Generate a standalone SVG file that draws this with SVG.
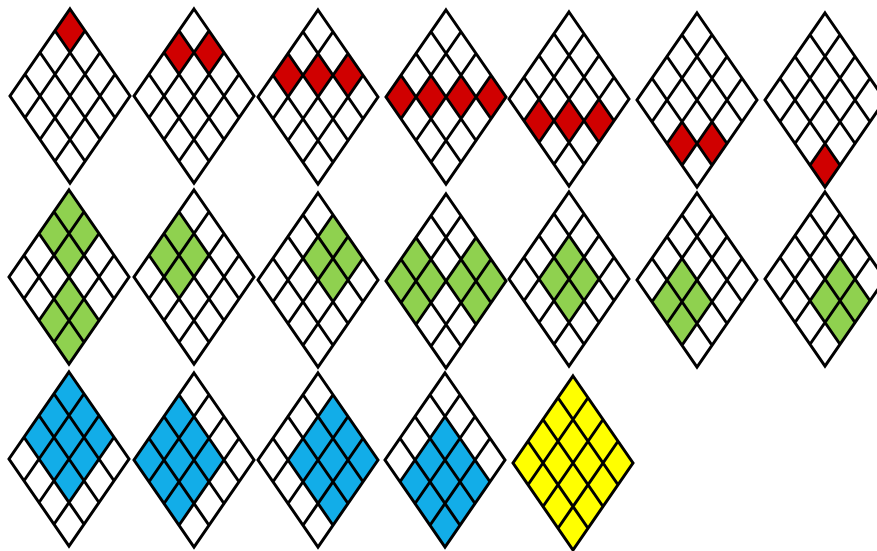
<svg xmlns="http://www.w3.org/2000/svg" xmlns:xlink="http://www.w3.org/1999/xlink" width="877" height="551" viewBox="0 0 877 551">
<style>
.r{fill:#d00000}.g{fill:#8fd14f}.b{fill:#12ade8}.y{fill:#ffff00}.w{fill:#ffffff}
.ln{fill:none;stroke:#000;stroke-width:3;stroke-linejoin:miter;stroke-miterlimit:10}
</style>
<defs>
<polygon id="c" points="0,0 15,21.75 0,43.5 -15,21.75"/>
<polygon id="bg" points="0,0 60,87 0,174 -60,87"/>
<path id="grid" class="ln" d="M0,0 L60,87 L0,174 L-60,87 Z M15,21.75 L-45,108.75 M30,43.5 L-30,130.5 M45,65.25 L-15,152.25 M-15,21.75 L45,108.75 M-30,43.5 L30,130.5 M-45,65.25 L15,152.25"/>
</defs>
<rect width="877" height="551" fill="#ffffff"/>
<g id="red-row">
<g id="r1" transform="translate(70,9)"><use xlink:href="#bg" class="w"/><use xlink:href="#c" class="r"/><use xlink:href="#grid"/></g>
<g id="r2" transform="translate(194,9)"><use xlink:href="#bg" class="w"/><use xlink:href="#c" class="r" x="15" y="21.75"/><use xlink:href="#c" class="r" x="-15" y="21.75"/><use xlink:href="#grid"/></g>
<g id="r3" transform="translate(318,10)"><use xlink:href="#bg" class="w"/><use xlink:href="#c" class="r" x="30" y="43.5"/><use xlink:href="#c" class="r" x="0" y="43.5"/><use xlink:href="#c" class="r" x="-30" y="43.5"/><use xlink:href="#grid"/></g>
<g id="r4" transform="translate(446,10)"><use xlink:href="#bg" class="w"/><use xlink:href="#c" class="r" x="45" y="65.25"/><use xlink:href="#c" class="r" x="15" y="65.25"/><use xlink:href="#c" class="r" x="-15" y="65.25"/><use xlink:href="#c" class="r" x="-45" y="65.25"/><use xlink:href="#grid"/></g>
<g id="r5" transform="translate(569,12)"><use xlink:href="#bg" class="w"/><use xlink:href="#c" class="r" x="30" y="87"/><use xlink:href="#c" class="r" x="0" y="87"/><use xlink:href="#c" class="r" x="-30" y="87"/><use xlink:href="#grid"/></g>
<g id="r6" transform="translate(697,13)"><use xlink:href="#bg" class="w"/><use xlink:href="#c" class="r" x="15" y="108.75"/><use xlink:href="#c" class="r" x="-15" y="108.75"/><use xlink:href="#grid"/></g>
<g id="r7" transform="translate(825,13)"><use xlink:href="#bg" class="w"/><use xlink:href="#c" class="r" x="0" y="130.5"/><use xlink:href="#grid"/></g>
</g>
<g id="green-row">
<g id="g1" transform="translate(69,190)"><use xlink:href="#bg" class="w"/><use xlink:href="#c" class="g"/><use xlink:href="#c" class="g" x="15" y="21.75"/><use xlink:href="#c" class="g" x="-15" y="21.75"/><use xlink:href="#c" class="g" x="0" y="43.5"/><use xlink:href="#c" class="g" x="0" y="87"/><use xlink:href="#c" class="g" x="15" y="108.75"/><use xlink:href="#c" class="g" x="-15" y="108.75"/><use xlink:href="#c" class="g" x="0" y="130.5"/><use xlink:href="#grid"/></g>
<g id="g2" transform="translate(194,190)"><use xlink:href="#bg" class="w"/><use xlink:href="#c" class="g" x="-15" y="21.75"/><use xlink:href="#c" class="g" x="0" y="43.5"/><use xlink:href="#c" class="g" x="-30" y="43.5"/><use xlink:href="#c" class="g" x="-15" y="65.25"/><use xlink:href="#grid"/></g>
<g id="g3" transform="translate(318,193)"><use xlink:href="#bg" class="w"/><use xlink:href="#c" class="g" x="15" y="21.75"/><use xlink:href="#c" class="g" x="30" y="43.5"/><use xlink:href="#c" class="g" x="0" y="43.5"/><use xlink:href="#c" class="g" x="15" y="65.25"/><use xlink:href="#grid"/></g>
<g id="g4" transform="translate(446,194)"><use xlink:href="#bg" class="w"/><use xlink:href="#c" class="g" x="-30" y="43.5"/><use xlink:href="#c" class="g" x="-15" y="65.25"/><use xlink:href="#c" class="g" x="-45" y="65.25"/><use xlink:href="#c" class="g" x="-30" y="87"/><use xlink:href="#c" class="g" x="30" y="43.5"/><use xlink:href="#c" class="g" x="45" y="65.25"/><use xlink:href="#c" class="g" x="15" y="65.25"/><use xlink:href="#c" class="g" x="30" y="87"/><use xlink:href="#grid"/></g>
<g id="g5" transform="translate(569,192)"><use xlink:href="#bg" class="w"/><use xlink:href="#c" class="g" x="0" y="43.5"/><use xlink:href="#c" class="g" x="15" y="65.25"/><use xlink:href="#c" class="g" x="-15" y="65.25"/><use xlink:href="#c" class="g" x="0" y="87"/><use xlink:href="#grid"/></g>
<g id="g6" transform="translate(697,193)"><use xlink:href="#bg" class="w"/><use xlink:href="#c" class="g" x="-15" y="65.25"/><use xlink:href="#c" class="g" x="0" y="87"/><use xlink:href="#c" class="g" x="-30" y="87"/><use xlink:href="#c" class="g" x="-15" y="108.75"/><use xlink:href="#grid"/></g>
<g id="g7" transform="translate(825,192)"><use xlink:href="#bg" class="w"/><use xlink:href="#c" class="g" x="15" y="65.25"/><use xlink:href="#c" class="g" x="30" y="87"/><use xlink:href="#c" class="g" x="0" y="87"/><use xlink:href="#c" class="g" x="15" y="108.75"/><use xlink:href="#grid"/></g>
</g>
<g id="blue-yellow-row">
<g id="b1" transform="translate(69,372)"><use xlink:href="#bg" class="w"/><use xlink:href="#c" class="b"/><use xlink:href="#c" class="b" x="15" y="21.75"/><use xlink:href="#c" class="b" x="-15" y="21.75"/><use xlink:href="#c" class="b" x="30" y="43.5"/><use xlink:href="#c" class="b" x="0" y="43.5"/><use xlink:href="#c" class="b" x="-30" y="43.5"/><use xlink:href="#c" class="b" x="15" y="65.25"/><use xlink:href="#c" class="b" x="-15" y="65.25"/><use xlink:href="#c" class="b" x="0" y="87"/><use xlink:href="#grid"/></g>
<g id="b2" transform="translate(194,373)"><use xlink:href="#bg" class="w"/><use xlink:href="#c" class="b" x="-15" y="21.75"/><use xlink:href="#c" class="b" x="0" y="43.5"/><use xlink:href="#c" class="b" x="-30" y="43.5"/><use xlink:href="#c" class="b" x="15" y="65.25"/><use xlink:href="#c" class="b" x="-15" y="65.25"/><use xlink:href="#c" class="b" x="-45" y="65.25"/><use xlink:href="#c" class="b" x="0" y="87"/><use xlink:href="#c" class="b" x="-30" y="87"/><use xlink:href="#c" class="b" x="-15" y="108.75"/><use xlink:href="#grid"/></g>
<g id="b3" transform="translate(318,373)"><use xlink:href="#bg" class="w"/><use xlink:href="#c" class="b" x="15" y="21.75"/><use xlink:href="#c" class="b" x="30" y="43.5"/><use xlink:href="#c" class="b" x="0" y="43.5"/><use xlink:href="#c" class="b" x="45" y="65.25"/><use xlink:href="#c" class="b" x="15" y="65.25"/><use xlink:href="#c" class="b" x="-15" y="65.25"/><use xlink:href="#c" class="b" x="30" y="87"/><use xlink:href="#c" class="b" x="0" y="87"/><use xlink:href="#c" class="b" x="15" y="108.75"/><use xlink:href="#grid"/></g>
<g id="b4" transform="translate(445,373)"><use xlink:href="#bg" class="w"/><use xlink:href="#c" class="b" x="0" y="43.5"/><use xlink:href="#c" class="b" x="15" y="65.25"/><use xlink:href="#c" class="b" x="-15" y="65.25"/><use xlink:href="#c" class="b" x="30" y="87"/><use xlink:href="#c" class="b" x="0" y="87"/><use xlink:href="#c" class="b" x="-30" y="87"/><use xlink:href="#c" class="b" x="15" y="108.75"/><use xlink:href="#c" class="b" x="-15" y="108.75"/><use xlink:href="#c" class="b" x="0" y="130.5"/><use xlink:href="#grid"/></g>
<g id="y1" transform="translate(573,376)"><use xlink:href="#bg" class="y"/><use xlink:href="#grid"/></g>
</g>
</svg>
